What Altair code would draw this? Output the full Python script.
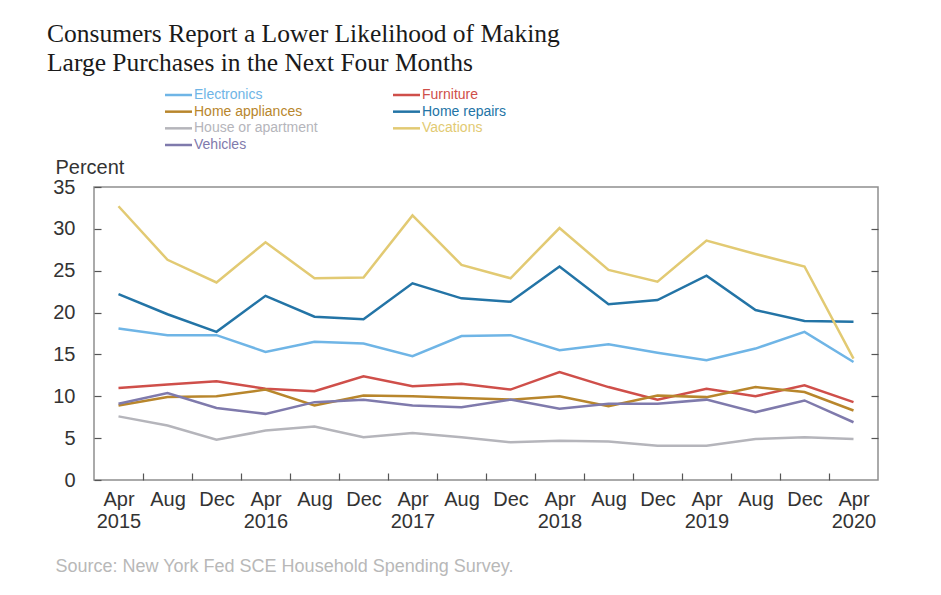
import altair as alt
import pandas as pd

# ---- data ----
tick_labels = ["Apr 2015", "Aug", "Dec", "Apr 2016", "Aug", "Dec", "Apr 2017", "Aug", "Dec",
               "Apr 2018", "Aug", "Dec", "Apr 2019", "Aug", "Dec", "Apr 2020"]
series = ["Electronics", "Furniture", "Home appliances", "Home repairs",
          "House or apartment", "Vacations", "Vehicles"]
colors = ["#6fb5e6", "#cf4f4a", "#b8862c", "#2374a6", "#b5b5bb", "#e2ca73", "#7f7aac"]

electronics = [18.1, 17.3, 17.3, 15.3, 16.5, 16.3, 14.8, 17.2, 17.3, 15.5, 16.2, 15.2, 14.3, 15.7, 17.7, 14.1]
furniture = [11.0, 11.4, 11.8, 10.9, 10.6, 12.4, 11.2, 11.5, 10.8, 12.9, 11.1, 9.6, 10.9, 10.0, 11.3, 9.3]
home_appliances = [8.9, 9.9, 10.0, 10.8, 8.9, 10.1, 10.0, 9.8, 9.6, 10.0, 8.8, 10.1, 9.9, 11.1, 10.5, 8.3]
home_repairs = [22.2, 19.8, 17.7, 22.0, 19.5, 19.2, 23.5, 21.7, 21.3, 25.5, 21.0, 21.5, 24.4, 20.3, 19.0, 18.9]
house_apartment = [7.6, 6.5, 4.8, 5.9, 6.4, 5.1, 5.6, 5.1, 4.5, 4.7, 4.6, 4.1, 4.1, 4.9, 5.1, 4.9]
vacations = [32.7, 26.3, 23.6, 28.4, 24.1, 24.2, 31.6, 25.7, 24.1, 30.1, 25.1, 23.7, 28.6, 27.0, 25.5, 14.5]
vehicles = [9.1, 10.4, 8.6, 7.9, 9.3, 9.6, 8.9, 8.7, 9.6, 8.5, 9.1, 9.1, 9.6, 8.1, 9.5, 6.9]

y_ticks = [0, 5, 10, 15, 20, 25, 30, 35]
inner_y_ticks = [5, 10, 15, 20, 25, 30]

title_lines = ["Consumers Report a Lower Likelihood of Making",
               "Large Purchases in the Next Four Months"]
source_text = "Source: New York Fed SCE Household Spending Survey."

# ---- build tables ----
values = dict(zip(series, [electronics, furniture, home_appliances, home_repairs,
                           house_apartment, vacations, vehicles]))
rows = []
for s in series:
    for i, v in enumerate(values[s]):
        rows.append({"idx": i, "series": s, "value": v})
df = pd.DataFrame(rows)

legend_df = pd.DataFrame({
    "series": series,
    "col": [i % 2 for i in range(len(series))],
    "row": [i // 2 for i in range(len(series))],
})

FONT = "Liberation Sans"
TXT = "#333333"

color_scale = alt.Scale(domain=series, range=colors)
x_scale = alt.Scale(domain=[-0.5, len(tick_labels) - 0.5], nice=False, zero=False)
y_scale = alt.Scale(domain=[0, 35], nice=False, zero=True)

label_js = "[" + ",".join("'" + t + "'" for t in tick_labels) + "]"

lines = alt.Chart(df).mark_line(strokeWidth=2.5).encode(
    x=alt.X("idx:Q", scale=x_scale, axis=alt.Axis(
        values=list(range(len(tick_labels))),
        labelExpr="split(" + label_js + "[datum.value], ' ')",
        orient="bottom", ticks=False, domain=False, grid=False, title=None,
        labelPadding=9, labelLineHeight=22, labelFontSize=20, labelColor=TXT,
        labelFont=FONT, labelFlush=False, labelOverlap=False, labelBound=False)),
    y=alt.Y("value:Q", scale=y_scale, axis=alt.Axis(
        values=y_ticks, orient="left", offset=-7, tickSize=7, ticks=True,
        tickColor="#555555", tickWidth=1.2, domain=False, grid=False,
        labelPadding=19, labelFontSize=20, labelColor=TXT, labelFont=FONT,
        labelFlush=False, labelOverlap=False,
        title="Percent", titleAngle=0, titleAlign="left", titleBaseline="middle",
        titleX=-46, titleY=-20, titleFontSize=20, titleFontWeight="normal",
        titleColor=TXT, titleFont=FONT)),
    color=alt.Color("series:N", scale=color_scale, legend=None),
)

tick_layer = alt.Chart(df).mark_point(opacity=0).encode(
    x=alt.X("idx:Q", scale=x_scale, axis=alt.Axis(
        values=[i + 0.5 for i in range(len(tick_labels) - 1)],
        orient="bottom", offset=-7, tickSize=7, ticks=True, tickColor="#555555",
        tickWidth=1.2, labels=False, domain=False, grid=False,
        title=source_text, titleX=-39, titleY=93, titleAlign="left",
        titleBaseline="middle", titleFontSize=18, titleFontWeight="normal",
        titleColor="#b8b8b8", titleFont=FONT)),
    y=alt.Y("value:Q", scale=y_scale, axis=alt.Axis(
        values=inner_y_ticks, orient="right", offset=-7, tickSize=7, ticks=True,
        tickColor="#555555", tickWidth=1.2, labels=False, domain=False,
        grid=False, title=None)),
)

plot = alt.layer(lines, tick_layer).resolve_axis(x="independent", y="independent")

leg_x = alt.X("col:Q", scale=alt.Scale(domain=[0, 1], range=[84.5, 312.5]), axis=None)
leg_y = alt.Y("row:Q", scale=alt.Scale(domain=[0, 3], range=[-92, -42]), axis=None)
leg_color = alt.Color("series:N", scale=color_scale, legend=None)

leg_sym = alt.Chart(legend_df).mark_point(
    shape="stroke", size=729, strokeWidth=2.5, filled=False, opacity=1
).encode(x=leg_x, y=leg_y, color=leg_color)

leg_txt = alt.Chart(legend_df).mark_text(
    align="left", baseline="middle", dx=15.5, fontSize=14, font=FONT
).encode(x=leg_x, y=leg_y, text="series:N", color=leg_color)

legend = alt.layer(leg_sym, leg_txt)

chart = alt.layer(plot, legend).resolve_scale(
    x="independent", y="independent", color="shared"
).properties(
    width=784,
    height=293,
    autosize=alt.AutoSizeParams(type="none"),
    padding={"left": 94, "top": 187, "right": 63, "bottom": 115},
    title=alt.TitleParams(
        text=title_lines, anchor="start", frame="group", dx=-47,
        font="Liberation Serif", fontSize=25.5, fontWeight="normal",
        color="#1a1a1a", lineHeight=29, offset=11.5,
    ),
    background="white",
).configure_view(stroke="#8f8f8f", strokeWidth=1.5)

chart.save("out.html", embed_options={"renderer": "svg", "actions": False})
